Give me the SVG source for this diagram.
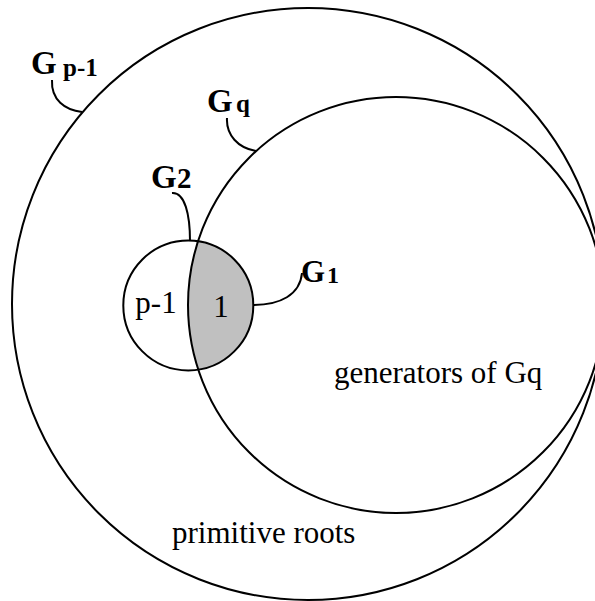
<svg xmlns="http://www.w3.org/2000/svg" width="595" height="601" viewBox="0 0 595 601">
<style>
.c{fill:none;stroke:#000;stroke-width:2}
.t{font-family:"Liberation Serif","Times New Roman",serif;fill:#000}
.b{font-family:"Liberation Serif","Times New Roman",serif;font-weight:bold;fill:#000}
.l{fill:none;stroke:#000;stroke-width:2}
</style>
<defs>
<clipPath id="smallClip"><circle cx="188.3" cy="305.4" r="65"/></clipPath>
</defs>
<rect width="595" height="601" fill="#fff"/>
<g id="node-Gp-1">
<circle class="c" cx="308" cy="304" r="296"/>
<text class="t" x="172" y="543" font-size="31">primitive roots</text>
</g>
<g id="node-G2">
<circle cx="396" cy="305" r="208" fill="#c0c0c0" clip-path="url(#smallClip)"/>
<circle class="c" cx="188.3" cy="305.4" r="65"/>
<text class="t" x="156" y="313" font-size="31" text-anchor="middle">p-1</text>
<text class="t" x="221" y="317" font-size="31" text-anchor="middle">1</text>
</g>
<g id="node-Gq">
<circle class="c" cx="396" cy="305" r="208"/>
<text class="t" x="334" y="383" font-size="31">generators of Gq</text>
</g>
<g id="connectors">
<path class="l" d="M52,80 C51,100 65,110 82,112"/>
<path class="l" d="M227,118 C226,135 238,148 256,151"/>
<path class="l" d="M172,193 C185,192 190,215 190,241"/>
<path class="l" d="M253,305 C280,305 300,295 302,273"/>
</g>
<g id="label-Gp-1"><text class="b" x="31" y="74" font-size="33">G</text><text class="b" x="63" y="76" font-size="25">p-1</text></g>
<g id="label-Gq"><text class="b" x="207" y="112" font-size="33">G</text><text class="b" x="236" y="112" font-size="25">q</text></g>
<g id="label-G2"><text class="b" x="151" y="188" font-size="33">G</text><text class="b" x="177" y="188" font-size="29">2</text></g>
<g id="label-G1"><text class="b" x="301" y="282" font-size="31">G</text><text class="b" x="327" y="283" font-size="24">1</text></g>
</svg>
